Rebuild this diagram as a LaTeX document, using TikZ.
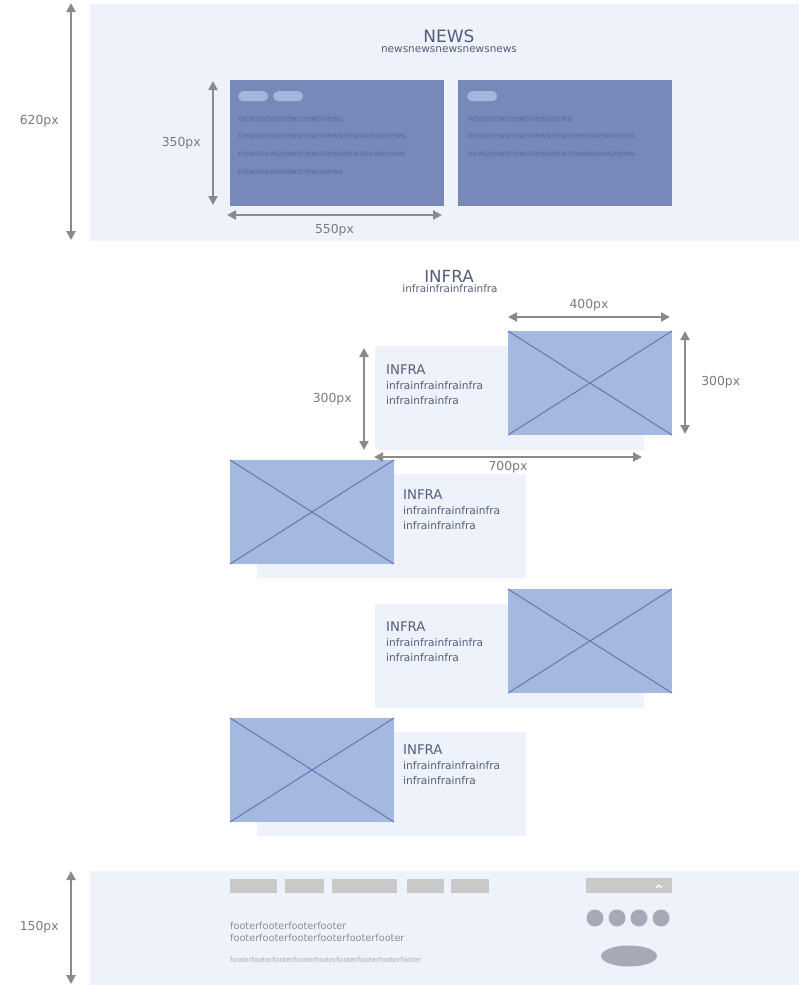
\documentclass[tikz,border=0pt]{standalone}
\usepackage{fontspec}
\setmainfont{DejaVu Sans}
\usetikzlibrary{arrows.meta}
\usetikzlibrary{positioning}
\definecolor{pagebg}{HTML}{EEF2FA}
\definecolor{card}{HTML}{7888B8}
\definecolor{pill}{HTML}{A4B6DE}
\definecolor{cardtext}{HTML}{5A6996}
\definecolor{photo}{HTML}{A5B8DF}
\definecolor{cross}{HTML}{5F78B5}
\definecolor{heading}{HTML}{565C7C}
\definecolor{dimgray}{HTML}{8A8A8A}
\definecolor{dimtext}{HTML}{7A7A7A}
\definecolor{footbox}{HTML}{C9C9C9}
\definecolor{footdot}{HTML}{A6A9B8}
\definecolor{foottext}{HTML}{8C8E98}
\tikzset{
  dim/.style={draw=dimgray, line width=2.6pt, {Triangle[length=9pt,width=9pt]}-{Triangle[length=9pt,width=9pt]}},
  dimlabel/.style={text=dimtext, font=\fontsize{12.4}{14}\selectfont, inner sep=1pt},
  panel/.style={fill=pagebg, inner sep=0pt, outer sep=0pt, anchor=north west},
  newscard/.style={fill=card, inner sep=0pt, outer sep=0pt, anchor=north west, minimum width=214pt, minimum height=126pt},
  tag/.style={fill=pill, rounded corners=5pt, inner sep=0pt, anchor=north west, minimum width=30pt, minimum height=10pt},
  photobox/.style={fill=photo, inner sep=0pt, outer sep=0pt, anchor=north west, minimum width=164pt, minimum height=104pt},
  blocktitle/.style={text=heading, font=\fontsize{13.3}{15}\selectfont, anchor=west, inner sep=0pt},
  blocktext/.style={text=heading, font=\fontsize{10.6}{15.5}\selectfont, anchor=north west, align=left, inner sep=0pt},
  menubox/.style={fill=footbox, inner sep=0pt, anchor=north west, minimum height=14pt}
}
\begin{document}
\begin{tikzpicture}[x=1pt,y=-1pt]
  \useasboundingbox (0,0) rectangle (799,985);
  % news section
  \node[panel, minimum width=709pt, minimum height=237pt] (news) at (90,4) {};
  \node[text=heading, font=\fontsize{17}{20}\selectfont, inner sep=0pt] (newstitle) at (449,36) {NEWS};
  \node[text=heading, font=\fontsize{10.5}{12}\selectfont, inner sep=0pt] (newssub) at (449,49.5) {newsnewsnewsnewsnews};
  \node[newscard] (card1) at (230,80) {};
  \node[newscard] (card2) at (458,80) {};
  \node[tag] (tag1) at (238,91) {};
  \node[tag] (tag2) at (273,91) {};
  \node[tag] (tag3) at (467,91) {};
  \foreach \y/\txt [count=\i] in {119/newsnewsnewsnewsnews, 136/newsnewsnewsnewsnewsnewsnewsnews, 154/newsnewsnewsnewsnewsnewsnewsnews, 172/newsnewsnewsnewsnews}
    \node[text=cardtext, font=\fontsize{8.1}{10}\selectfont, anchor=west, inner sep=0pt] (lefttxt\i) at (238,\y) {\txt};
  \foreach \y/\txt [count=\i] in {119/newsnewsnewsnewsnews, 136/newsnewsnewsnewsnewsnewsnewsnews, 154/newsnewsnewsnewsnewsnewsnewsnews}
    \node[text=cardtext, font=\fontsize{8.1}{10}\selectfont, anchor=west, inner sep=0pt] (righttxt\i) at (467,\y) {\txt};
  \coordinate (h620a) at (71,3);
  \coordinate (h620b) at (71,240);
  \draw[dim] (h620a) -- node[dimlabel, left=10pt] {620px} (h620b);
  \coordinate (h350a) at (213,81);
  \coordinate (h350b) at (213,205);
  \draw[dim] (h350a) -- node[dimlabel, left=10pt] {350px} (h350b);
  \coordinate (w550a) at (227,215);
  \coordinate (w550b) at (442,215);
  \draw[dim] (w550a) -- node[dimlabel, below=7pt] {550px} (w550b);

  % infra section
  \node[text=heading, font=\fontsize{16.7}{20}\selectfont, inner sep=0pt] (infratitle) at (449,276) {INFRA};
  \node[text=heading, font=\fontsize{10.4}{12}\selectfont, inner sep=0pt] (infrasub) at (450,289) {infrainfrainfrainfra};
  \foreach \bx/\by/\ix/\iy/\tx/\ty [count=\k] in {375/346/508/331/386/370, 257/474/230/460/403/495, 375/604/508/589/386/627, 257/732/230/718/403/750} {
    \node[panel, minimum width=269pt, minimum height=104pt] (bg\k) at (\bx,\by) {};
    \node[photobox] (img\k) at (\ix,\iy) {};
    \draw[cross, line width=1pt] (img\k.north west) -- (img\k.south east) (img\k.south west) -- (img\k.north east);
    \node[blocktitle] (head\k) at (\tx,\ty) {INFRA};
    \node[blocktext] (body\k) at (\tx,\ty+11) {infrainfrainfrainfra\\infrainfrainfra};
  }
  \coordinate (w400a) at (508,317);
  \coordinate (w400b) at (670,317);
  \draw[dim] (w400a) -- node[dimlabel, above=4pt] {400px} (w400b);
  \coordinate (h300a) at (364,348);
  \coordinate (h300b) at (364,450);
  \draw[dim] (h300a) -- node[dimlabel, left=10pt] {300px} (h300b);
  \coordinate (h300c) at (685,331);
  \coordinate (h300d) at (685,434);
  \draw[dim] (h300c) -- node[dimlabel, right=14pt] {300px} (h300d);
  \coordinate (w700a) at (374,457);
  \coordinate (w700b) at (642,457);
  \draw[dim] (w700a) -- node[dimlabel, below=2pt] {700px} (w700b);

  % footer
  \node[panel, minimum width=709pt, minimum height=114pt] (footer) at (90,871) {};
  \foreach \x/\w [count=\i] in {230/47, 285/39, 332/65, 407/37, 451/38}
    \node[menubox, minimum width=\w pt] (menu\i) at (\x,879) {};
  \node[menubox, minimum width=86pt, minimum height=15pt] (select) at (586,878) {};
  \draw[white, line width=1.1pt, line cap=round, line join=round] (656.5,887.5) -- (659,885) -- (661.5,887.5);
  \foreach \x [count=\i] in {595,617,639,661}
    \fill[footdot] (\x,918) circle (8.5pt) coordinate (sns\i);
  \fill[footdot] (629,956) ellipse (28pt and 10.5pt) coordinate (appbtn);
  \node[text=foottext, font=\fontsize{9.7}{11.5}\selectfont, anchor=north west, align=left, inner sep=0pt] (foot1) at (230,922) {footerfooterfooterfooter\\footerfooterfooterfooterfooterfooter};
  \node[text=foottext!75, font=\fontsize{7.1}{9}\selectfont, anchor=west, inner sep=0pt] (foot2) at (230,960) {footerfooterfooterfooterfooterfooterfooterfooterfooter};
  \coordinate (h150a) at (71,871);
  \coordinate (h150b) at (71,984);
  \draw[dim] (h150a) -- node[dimlabel, left=10pt] {150px} (h150b);
\end{tikzpicture}
\end{document}
